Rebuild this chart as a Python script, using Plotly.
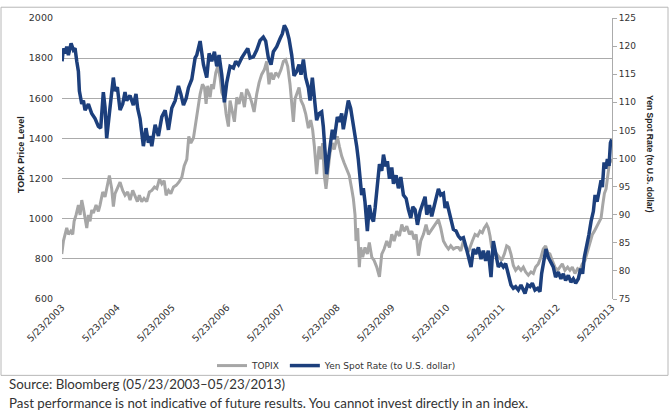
import pandas as pd
import plotly.graph_objects as go

# ---------------- data (decimal years, values) ----------------
topix_t = [2003.384, 2003.415, 2003.445, 2003.475, 2003.506, 2003.548, 2003.584, 2003.609, 2003.645, 2003.687,
           2003.718, 2003.748, 2003.778, 2003.809, 2003.839, 2003.869, 2003.899, 2003.93, 2003.96, 2004.009,
           2004.051, 2004.081, 2004.13, 2004.172, 2004.215, 2004.251, 2004.293, 2004.324, 2004.354, 2004.396,
           2004.445, 2004.493, 2004.536, 2004.584, 2004.627, 2004.675, 2004.718, 2004.76, 2004.796, 2004.839,
           2004.881, 2004.93, 2004.978, 2005.021, 2005.069, 2005.112, 2005.16, 2005.202, 2005.245, 2005.281,
           2005.324, 2005.366, 2005.415, 2005.463, 2005.512, 2005.566, 2005.609, 2005.657, 2005.693, 2005.73,
           2005.778, 2005.827, 2005.856, 2005.899, 2005.941, 2005.978, 2006.008, 2006.038, 2006.081, 2006.111,
           2006.141, 2006.184, 2006.22, 2006.263, 2006.293, 2006.341, 2006.372, 2006.414, 2006.444, 2006.487,
           2006.523, 2006.566, 2006.608, 2006.656, 2006.705, 2006.747, 2006.79, 2006.838, 2006.881, 2006.929,
           2006.972, 2007.02, 2007.069, 2007.111, 2007.153, 2007.19, 2007.232, 2007.275, 2007.323, 2007.372,
           2007.414, 2007.456, 2007.493, 2007.535, 2007.566, 2007.596, 2007.626, 2007.656, 2007.699, 2007.735,
           2007.778, 2007.82, 2007.869, 2007.911, 2007.947, 2007.978, 2008.02, 2008.063, 2008.099, 2008.129,
           2008.16, 2008.19, 2008.22, 2008.263, 2008.305, 2008.341, 2008.354, 2008.396, 2008.433, 2008.475,
           2008.517, 2008.566, 2008.614, 2008.657, 2008.687, 2008.718, 2008.736, 2008.766, 2008.796, 2008.821,
           2008.857, 2008.899, 2008.942, 2008.978, 2009.021, 2009.063, 2009.111, 2009.16, 2009.202, 2009.245,
           2009.293, 2009.342, 2009.384, 2009.427, 2009.475, 2009.524, 2009.566, 2009.608, 2009.657, 2009.705,
           2009.748, 2009.79, 2009.827, 2009.869, 2009.911, 2009.96, 2010.008, 2010.051, 2010.093, 2010.142,
           2010.19, 2010.233, 2010.275, 2010.324, 2010.372, 2010.415, 2010.457, 2010.505, 2010.554, 2010.596,
           2010.639, 2010.687, 2010.736, 2010.778, 2010.85, 2010.899, 2010.947, 2010.99, 2011.032, 2011.068,
           2011.111, 2011.141, 2011.172, 2011.202, 2011.25, 2011.293, 2011.335, 2011.384, 2011.432, 2011.475,
           2011.517, 2011.553, 2011.596, 2011.638, 2011.687, 2011.735, 2011.778, 2011.82, 2011.869, 2011.917,
           2011.96, 2012.002, 2012.05, 2012.099, 2012.141, 2012.184, 2012.22, 2012.262, 2012.305, 2012.353,
           2012.402, 2012.444, 2012.487, 2012.535, 2012.584, 2012.626, 2012.669, 2012.717, 2012.766, 2012.808,
           2012.85, 2012.899, 2012.947, 2012.99, 2013.032, 2013.068, 2013.111, 2013.153, 2013.19, 2013.22,
           2013.25, 2013.281, 2013.311, 2013.335, 2013.366, 2013.39]
topix_v = [824, 889, 922, 954, 922, 938, 922, 987, 1019, 1068,
           1019, 1093, 1052, 1011, 954, 1019, 987, 1044, 1028, 1068,
           1036, 1068, 1133, 1109, 1174, 1215, 1150, 1060, 1125, 1150,
           1182, 1141, 1117, 1133, 1093, 1141, 1117, 1085, 1117, 1085,
           1101, 1085, 1133, 1141, 1158, 1150, 1198, 1174, 1190, 1117,
           1141, 1125, 1158, 1166, 1182, 1206, 1263, 1296, 1410, 1377,
           1402, 1491, 1556, 1621, 1670, 1654, 1572, 1662, 1605, 1670,
           1646, 1727, 1759, 1703, 1629, 1597, 1523, 1459, 1589, 1523,
           1483, 1605, 1572, 1629, 1556, 1646, 1621, 1580, 1532, 1621,
           1678, 1719, 1743, 1784, 1670, 1727, 1694, 1727, 1711, 1743,
           1784, 1792, 1759, 1670, 1572, 1483, 1597, 1621, 1654, 1589,
           1564, 1523, 1451, 1491, 1442, 1361, 1222, 1361, 1296, 1377,
           1214, 1149, 1239, 1328, 1377, 1345, 1361, 1410, 1361, 1312,
           1280, 1247, 1214, 1149, 1101, 1019, 889, 954, 759, 857,
           808, 857, 824, 881, 808, 792, 759, 710, 824, 849,
           889, 857, 922, 889, 938, 914, 971, 938, 962, 922,
           938, 897, 922, 816, 889, 922, 971, 922, 938, 962,
           979, 995, 954, 889, 865, 849, 865, 849, 857, 857,
           840, 889, 849, 835, 889, 922, 914, 938, 930, 954,
           971, 954, 914, 857, 840, 824, 808, 792, 824, 865,
           857, 824, 767, 743, 759, 743, 759, 735, 719, 735,
           727, 759, 775, 808, 849, 865, 832, 824, 792, 759,
           743, 759, 775, 743, 759, 743, 759, 727, 751, 743,
           775, 792, 840, 889, 922, 938, 962, 987, 1003, 1068,
           1125, 1149, 1214, 1263, 1296, 1280]

yen_t = [2003.39, 2003.414, 2003.445, 2003.475, 2003.505, 2003.554, 2003.596, 2003.626, 2003.657, 2003.687,
         2003.705, 2003.748, 2003.778, 2003.808, 2003.869, 2003.929, 2003.99, 2004.051, 2004.093, 2004.141,
         2004.172, 2004.202, 2004.251, 2004.323, 2004.354, 2004.396, 2004.445, 2004.493, 2004.535, 2004.566,
         2004.626, 2004.687, 2004.735, 2004.766, 2004.808, 2004.869, 2004.917, 2004.96, 2004.99, 2005.02,
         2005.081, 2005.141, 2005.202, 2005.263, 2005.323, 2005.384, 2005.445, 2005.505, 2005.548, 2005.596,
         2005.645, 2005.687, 2005.748, 2005.808, 2005.838, 2005.869, 2005.899, 2005.96, 2006.02, 2006.063,
         2006.111, 2006.16, 2006.202, 2006.244, 2006.293, 2006.341, 2006.384, 2006.444, 2006.505, 2006.547,
         2006.596, 2006.656, 2006.717, 2006.766, 2006.808, 2006.869, 2006.929, 2006.99, 2007.05, 2007.093,
         2007.141, 2007.19, 2007.232, 2007.293, 2007.353, 2007.396, 2007.432, 2007.475, 2007.517, 2007.566,
         2007.608, 2007.656, 2007.699, 2007.735, 2007.778, 2007.82, 2007.869, 2007.899, 2007.941, 2007.978,
         2008.02, 2008.063, 2008.111, 2008.141, 2008.172, 2008.202, 2008.232, 2008.263, 2008.305, 2008.341,
         2008.354, 2008.396, 2008.433, 2008.475, 2008.505, 2008.554, 2008.596, 2008.639, 2008.687, 2008.718,
         2008.748, 2008.778, 2008.808, 2008.839, 2008.869, 2008.899, 2008.942, 2008.978, 2009.02, 2009.051,
         2009.081, 2009.124, 2009.16, 2009.202, 2009.233, 2009.275, 2009.305, 2009.342, 2009.384, 2009.415,
         2009.463, 2009.505, 2009.548, 2009.596, 2009.645, 2009.687, 2009.73, 2009.766, 2009.808, 2009.851,
         2009.899, 2009.948, 2009.99, 2010.021, 2010.069, 2010.111, 2010.154, 2010.19, 2010.233, 2010.275,
         2010.324, 2010.354, 2010.384, 2010.415, 2010.457, 2010.505, 2010.554, 2010.596, 2010.639, 2010.687,
         2010.736, 2010.778, 2010.826, 2010.869, 2010.911, 2010.96, 2011.008, 2011.05, 2011.093, 2011.141,
         2011.19, 2011.232, 2011.275, 2011.323, 2011.372, 2011.414, 2011.456, 2011.505, 2011.553, 2011.596,
         2011.638, 2011.687, 2011.735, 2011.778, 2011.808, 2011.856, 2011.899, 2011.941, 2011.99, 2012.038,
         2012.081, 2012.111, 2012.153, 2012.19, 2012.232, 2012.281, 2012.323, 2012.365, 2012.414, 2012.462,
         2012.505, 2012.547, 2012.596, 2012.644, 2012.687, 2012.729, 2012.778, 2012.82, 2012.856, 2012.887,
         2012.929, 2012.972, 2013.008, 2013.05, 2013.081, 2013.117, 2013.153, 2013.19, 2013.214, 2013.244,
         2013.275, 2013.305, 2013.335, 2013.36, 2013.384]
yen_v = [117.3, 119.6, 118.7, 119.9, 118.4, 120.5, 119.3, 119.6, 117.3, 115.5,
         112.0, 109.7, 110.3, 108.6, 109.7, 108.0, 107.1, 105.7, 105.4, 111.8,
         109.1, 103.6, 108.0, 114.4, 112.0, 112.7, 108.6, 109.7, 111.8, 110.3,
         111.2, 109.5, 111.5, 108.9, 107.1, 102.2, 105.4, 102.8, 104.0, 102.2,
         106.0, 104.0, 107.4, 108.6, 105.1, 109.0, 110.3, 112.9, 111.5, 109.5,
         110.7, 112.6, 114.1, 117.9, 118.4, 119.9, 120.9, 116.7, 114.4, 118.7,
         117.3, 119.0, 116.4, 118.4, 114.9, 110.0, 113.5, 116.4, 116.1, 117.3,
         116.7, 117.9, 118.7, 119.6, 117.9, 118.1, 119.3, 121.0, 121.6, 120.9,
         117.9, 116.7, 119.0, 119.9, 121.3, 122.2, 123.7, 122.9, 121.3, 118.4,
         114.7, 115.5, 116.7, 114.9, 117.6, 114.4, 112.6, 110.3, 114.4, 110.7,
         106.8, 108.0, 108.3, 105.7, 101.6, 97.2, 99.8, 102.2, 105.1, 103.4,
         104.3, 107.4, 106.5, 108.0, 105.2, 108.0, 110.3, 108.9, 106.2, 104.5,
         102.2, 99.8, 97.0, 93.5, 94.7, 92.3, 87.1, 91.7, 89.4, 88.8,
         91.2, 95.8, 99.0, 97.8, 100.7, 98.6, 99.5, 96.4, 98.4, 95.5,
         97.0, 94.7, 96.7, 93.5, 92.9, 90.9, 89.4, 91.4, 90.9, 88.2,
         90.6, 92.0, 93.2, 90.0, 91.7, 89.7, 91.2, 92.9, 94.6, 93.5,
         93.8, 91.2, 92.3, 90.9, 89.4, 87.4, 87.1, 86.2, 85.7, 85.9,
         84.2, 82.7, 80.7, 83.9, 83.0, 84.2, 82.1, 83.6, 81.8, 83.6,
         78.9, 85.3, 82.7, 80.7, 81.3, 80.7, 81.3, 79.5, 77.5, 76.9,
         77.2, 76.6, 77.5, 76.6, 76.0, 77.5, 77.2, 77.8, 76.6, 76.9,
         76.3, 79.5, 82.4, 83.9, 82.4, 81.3, 80.7, 78.9, 79.8, 78.6,
         79.5, 78.3, 79.2, 78.0, 78.6, 77.8, 78.6, 80.4, 79.5, 82.4,
         84.2, 86.5, 88.8, 90.6, 93.5, 92.3, 94.1, 96.1, 94.9, 99.3,
         98.2, 99.9, 98.7, 102.8, 103.4]

tick_years = list(range(2003, 2014))
tick_labels = [f"5/23/{y}" for y in tick_years]

topix_name = "TOPIX"
yen_name = "Yen Spot Rate (to U.S. dollar)"


def to_date(y):
    base = pd.Timestamp(int(y), 1, 1)
    return base + pd.Timedelta(days=(y - int(y)) * 365.25)


topix_x = [to_date(t) for t in topix_t]
yen_x = [to_date(t) for t in yen_t]
tick_vals = [pd.Timestamp(y, 5, 23) for y in tick_years]

FONT = "DejaVu Sans"
TXT = "#333333"
GRID = "#ABABAB"

fig = go.Figure()
fig.add_trace(go.Scatter(x=topix_x, y=topix_v, name=topix_name, mode="lines",
                         line=dict(color="#A6A6A6", width=3), yaxis="y"))
fig.add_trace(go.Scatter(x=yen_x, y=yen_v, name=yen_name, mode="lines",
                         line=dict(color="#1C3F7C", width=3.5), yaxis="y2"))

# layout geometry (pixels)
W, H = 670, 416
L, R, T, B = 62, 58, 12, 117
pw, ph = W - L - R, H - T - B


def px(x):
    return (x - L) / pw


def py(y):
    return (H - B - y) / ph


fig.update_layout(
    width=W, height=H,
    margin=dict(l=L, r=R, t=T, b=B),
    paper_bgcolor="white", plot_bgcolor="white",
    font=dict(family=FONT, size=9, color=TXT),
    xaxis=dict(type="date", range=[tick_vals[0], tick_vals[-1]],
               tickvals=tick_vals, ticktext=tick_labels, tickangle=-45,
               showgrid=False, zeroline=False, showline=False, ticks="",
               tickfont=dict(size=9.5, color=TXT)),
    yaxis=dict(range=[600, 2000], dtick=200, showgrid=True, gridcolor=GRID, gridwidth=1,
               zeroline=False, showline=False, ticks="", ticklabelstandoff=8,
               tickfont=dict(size=9.5, color=TXT)),
    yaxis2=dict(range=[75, 125], dtick=5, overlaying="y", side="right", showgrid=False,
                zeroline=False, showline=True, linecolor=GRID, linewidth=1,
                ticks="outside", ticklen=4, tickcolor=GRID, tickfont=dict(size=9, color=TXT)),
    legend=dict(orientation="h", x=0.5, xanchor="center", y=py(367), yanchor="middle",
                font=dict(size=9, color=TXT), bgcolor="rgba(0,0,0,0)"),
    showlegend=True,
)

fig.add_shape(type="rect", xref="paper", yref="paper",
              x0=px(1), x1=px(668), y0=py(377), y1=py(1),
              line=dict(color="#B8B8B8", width=1), layer="below")

fig.add_annotation(text="<b>TOPIX Price Level</b>", xref="paper", yref="paper",
                   x=px(21), y=py(152), textangle=-90, showarrow=False,
                   xanchor="center", yanchor="middle",
                   font=dict(family="Liberation Sans", size=9, color="#222"))
fig.add_annotation(text="<b>Yen Spot Rate (to U.S. dollar)</b>", xref="paper", yref="paper",
                   x=px(650), y=py(151), textangle=90, showarrow=False,
                   xanchor="center", yanchor="middle",
                   font=dict(family="Liberation Sans", size=8.5, color="#222"))

fig.add_annotation(text="Source: Bloomberg (05/23/2003–05/23/2013)", xref="paper", yref="paper",
                   x=px(7), y=py(386), xanchor="left", yanchor="middle", showarrow=False,
                   font=dict(family="Lato", size=13.3, color="#333"))
fig.add_annotation(text="Past performance is not indicative of future results. You cannot invest directly in an index.",
                   xref="paper", yref="paper",
                   x=px(7), y=py(405), xanchor="left", yanchor="middle", showarrow=False,
                   font=dict(family="Lato", size=13.3, color="#333"))

fig.write_html("out.html")
